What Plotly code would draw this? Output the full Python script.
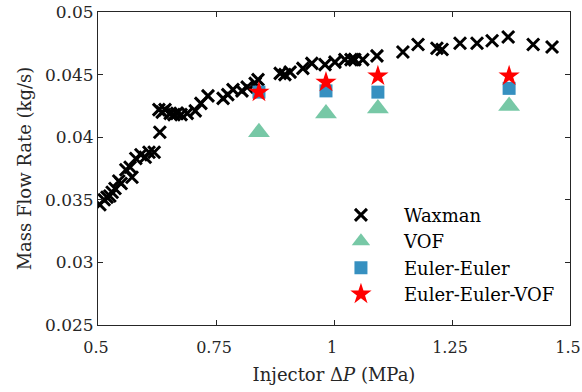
import plotly.graph_objects as go

# Waxman experimental data
wax_dp = [0.504, 0.513, 0.519, 0.525, 0.530, 0.536, 0.544, 0.549, 0.559, 0.572,
          0.568, 0.580, 0.591, 0.600, 0.608, 0.619, 0.631, 0.629, 0.636, 0.642,
          0.653, 0.661, 0.667, 0.676, 0.689, 0.706, 0.718, 0.733, 0.765, 0.775,
          0.786, 0.805, 0.816, 0.833, 0.839, 0.886, 0.896, 0.907, 0.934, 0.953,
          0.981, 1.002, 1.023, 1.036, 1.044, 1.061, 1.091, 1.146, 1.178, 1.218,
          1.229, 1.267, 1.303, 1.335, 1.369, 1.422, 1.462]
wax_mdot = [0.0346, 0.0350, 0.0352, 0.0353, 0.0356, 0.0359, 0.0365, 0.0363, 0.0374, 0.0368,
            0.0376, 0.0383, 0.0386, 0.0384, 0.0388, 0.0388, 0.0404, 0.0422, 0.0420, 0.0422,
            0.0419, 0.0418, 0.0419, 0.0418, 0.0419, 0.0421, 0.0427, 0.0433, 0.0431, 0.0434,
            0.0438, 0.0437, 0.0440, 0.0443, 0.0446, 0.0451, 0.0450, 0.0452, 0.0455, 0.0459,
            0.0458, 0.0460, 0.0462, 0.0462, 0.0462, 0.0462, 0.0465, 0.0468, 0.0474, 0.0471,
            0.0470, 0.0475, 0.0475, 0.0477, 0.0480, 0.0474, 0.0472]

sim_dp = [0.841, 0.983, 1.093, 1.371]
vof_mdot = [0.0404, 0.0419, 0.0423, 0.0425]
ee_mdot = [0.0436, 0.0437, 0.0436, 0.0439]
eev_mdot = [0.0436, 0.0444, 0.0449, 0.0449]

x_ticks = [0.5, 0.75, 1.0, 1.25, 1.5]
x_ticklabels = ["0.5", "0.75", "1", "1.25", "1.5"]
y_ticks = [0.025, 0.03, 0.035, 0.04, 0.045, 0.05]
y_ticklabels = ["0.025", "0.03", "0.035", "0.04", "0.045", "0.05"]

FONT = "DejaVu Serif"
FS = 17
FS_T = 18

fig = go.Figure()
fig.add_trace(go.Scatter(x=wax_dp, y=wax_mdot, mode="markers", name="Waxman",
                         marker=dict(symbol="x-thin-open", size=12, color="black",
                                     line=dict(width=3, color="black"))))
fig.add_trace(go.Scatter(x=sim_dp, y=vof_mdot, mode="markers", name="VOF",
                         marker=dict(symbol="triangle-up", size=19, color="#77C8A6",
                                     line=dict(width=0))))
fig.add_trace(go.Scatter(x=sim_dp, y=ee_mdot, mode="markers", name="Euler-Euler",
                         marker=dict(symbol="square", size=13, color="#3690C0",
                                     line=dict(width=0))))
fig.add_trace(go.Scatter(x=sim_dp, y=eev_mdot, mode="markers", name="Euler-Euler-VOF",
                         marker=dict(symbol="star", size=16, color="#FF0000",
                                     line=dict(width=0))))

axis_common = dict(showline=True, linecolor="#262626", linewidth=1, mirror="ticks",
                   ticks="inside", ticklen=5, tickcolor="#262626", showgrid=False,
                   zeroline=False, automargin=False, ticklabeloverflow="allow")

fig.update_xaxes(range=[0.5, 1.5], tickvals=x_ticks, ticktext=x_ticklabels,
                 ticklabelstandoff=8, ticklabelshift=-2,
                 tickfont=dict(family=FONT, size=16, color="#262626"),
                 title=dict(text="Injector Δ<i>P</i> (MPa)", standoff=12,
                            font=dict(family=FONT, size=FS_T, color="#262626")),
                 **axis_common)
fig.update_yaxes(range=[0.025, 0.05], tickvals=y_ticks, ticktext=y_ticklabels,
                 tickfont=dict(family=FONT, size=FS, color="#262626"),
                 title=dict(text="Mass Flow Rate (kg/s)", standoff=8,
                            font=dict(family=FONT, size=FS_T, color="#262626")),
                 **axis_common)

fig.update_layout(width=582, height=392, plot_bgcolor="white", paper_bgcolor="white",
                  margin=dict(l=98, r=12, t=12, b=67),
                  font=dict(family=FONT, size=FS, color="black"),
                  legend=dict(x=0.466, y=0.41, xanchor="left", yanchor="top",
                              bgcolor="rgba(0,0,0,0)", itemwidth=76,
                              tracegroupgap=0,
                              font=dict(family=FONT, size=FS_T, color="black")))

# remove the page's default 8px body margin so the figure fills the window
fig.write_html("out.html", config={"displayModeBar": False},
               post_script="document.body.style.margin='0';document.body.style.overflow='hidden';")
